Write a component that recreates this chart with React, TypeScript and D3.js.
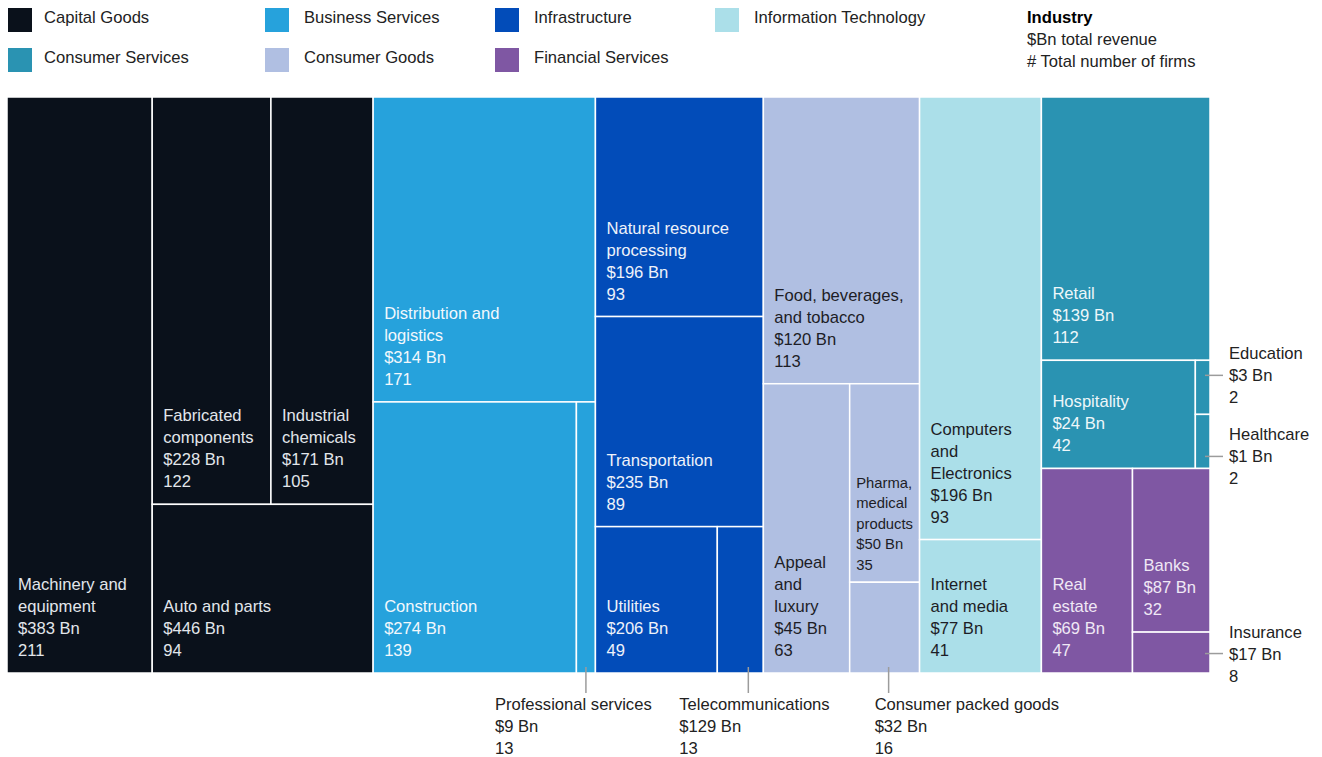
import React, { useMemo } from "react";
import * as d3 from "d3";

// ---- legend / groups ----
const groupNames = [
  "Capital Goods",
  "Business Services",
  "Infrastructure",
  "Information Technology",
  "Consumer Services",
  "Consumer Goods",
  "Financial Services",
];
const groupColors = ["#0a111b", "#26a2dc", "#024cb9", "#abdfe9", "#2a93b2", "#b0bfe2", "#7f57a3"];
const groupTextColors = ["#e2e6eb", "#f2f8fc", "#eef2fa", "#1d1d26", "#eef7fa", "#1d1d26", "#efe8f5"];
const legendRows = [
  ["Capital Goods", "Business Services", "Infrastructure", "Information Technology"],
  ["Consumer Services", "Consumer Goods", "Financial Services"],
];
const keyLines = ["Industry", "$Bn total revenue", "# Total number of firms"];

// ---- industries ----
const industryNames = [
  "Machinery and\nequipment",
  "Fabricated\ncomponents",
  "Industrial\nchemicals",
  "Auto and parts",
  "Distribution and\nlogistics",
  "Construction",
  "Professional services",
  "Natural resource\nprocessing",
  "Transportation",
  "Utilities",
  "Telecommunications",
  "Food, beverages,\nand tobacco",
  "Appeal\nand\nluxury",
  "Pharma,\nmedical\nproducts",
  "Consumer packed goods",
  "Computers\nand\nElectronics",
  "Internet\nand media",
  "Retail",
  "Hospitality",
  "Education",
  "Healthcare",
  "Real\nestate",
  "Banks",
  "Insurance",
];
const industryGroup = [0, 0, 0, 0, 1, 1, 1, 2, 2, 2, 2, 5, 5, 5, 5, 3, 3, 4, 4, 4, 4, 6, 6, 6];
const revenueBn = [383, 228, 171, 446, 314, 274, 9, 196, 235, 206, 129, 120, 45, 50, 32, 196, 77, 139, 24, 3, 1, 69, 87, 17];
const firmCount = [211, 122, 105, 94, 171, 139, 13, 93, 89, 49, 13, 113, 63, 35, 16, 93, 41, 112, 42, 2, 2, 47, 32, 8];
// tile area as drawn in the reference (≈ number of firms)
const areaWeight = [211, 122, 105, 94, 171, 139, 13, 93, 89, 45, 17, 113, 63, 35, 16, 136, 41, 112, 42, 2, 2, 47, 32, 8];

// arrangement of tiles: h = side by side, v = stacked
const L = (i: number) => ({ leaf: i });
const arrangement: any = {
  dir: "h",
  children: [
    { dir: "h", children: [L(0), { dir: "v", children: [{ dir: "h", children: [L(1), L(2)] }, L(3)] }] },
    { dir: "v", children: [L(4), { dir: "h", children: [L(5), L(6)] }] },
    { dir: "v", children: [L(7), L(8), { dir: "h", children: [L(9), L(10)] }] },
    { dir: "v", children: [L(11), { dir: "h", children: [L(12), { dir: "v", children: [L(13), L(14)] }] }] },
    { dir: "v", children: [L(15), L(16)] },
    {
      dir: "v",
      children: [
        { dir: "v", children: [L(17), { dir: "h", children: [L(18), { dir: "v", children: [L(19), L(20)] }] }] },
        { dir: "h", children: [L(21), { dir: "v", children: [L(22), L(23)] }] },
      ],
    },
  ],
};

// labels placed outside their tile
const outsideLabels = [
  { leaf: 6, side: "bottom", leaderDx: 0, textDx: -91, dy: 0 },
  { leaf: 10, side: "bottom", leaderDx: 8, textDx: -69, dy: 0 },
  { leaf: 14, side: "bottom", leaderDx: 4, textDx: -14, dy: 0 },
  { leaf: 19, side: "right", leaderDx: 0, textDx: 0, dy: -12 },
  { leaf: 20, side: "right", leaderDx: 0, textDx: 0, dy: 15 },
  { leaf: 23, side: "right", leaderDx: 0, textDx: 0, dy: 1 },
];

const W = 1322;
const H = 757;
const FONT = "'Liberation Sans', Arial, Helvetica, sans-serif";
const FS = 16.6;
const margin = { left: 7, top: 97, right: 112, bottom: 84 };

let ctx: CanvasRenderingContext2D | null = null;
function textWidth(s: string, size: number) {
  if (!ctx) ctx = document.createElement("canvas").getContext("2d");
  if (!ctx) return s.length * size * 0.55;
  ctx.font = `${size}px ${FONT}`;
  return ctx.measureText(s).width;
}

export default function App() {
  const leaves = useMemo(() => {
    const root = d3
      .hierarchy(arrangement, (d: any) => d.children)
      .sum((d: any) => (d.leaf !== undefined ? areaWeight[d.leaf] : 0));
    const tile = (node: any, x0: number, y0: number, x1: number, y1: number) => {
      (node.data.dir === "h" ? d3.treemapDice : d3.treemapSlice)(node, x0, y0, x1, y1);
    };
    d3
      .treemap()
      .tile(tile as any)
      .size([W - margin.left - margin.right, H - margin.top - margin.bottom])(root as any);
    return (root.leaves() as any[]).map((n) => ({
      i: n.data.leaf as number,
      x0: n.x0 + margin.left,
      y0: n.y0 + margin.top,
      x1: n.x1 + margin.left,
      y1: n.y1 + margin.top,
    }));
  }, []);

  const outsideSet = new Set(outsideLabels.map((o) => o.leaf));
  const byIdx: Record<number, any> = {};
  leaves.forEach((l) => (byIdx[l.i] = l));

  const labelLines = (i: number) => [...industryNames[i].split("\n"), `$${revenueBn[i]} Bn`, `${firmCount[i]}`];

  return (
    <svg
      width={W}
      height={H}
      style={{ position: "absolute", left: 0, top: 0, display: "block", background: "#fff" }}
      fontFamily={FONT}
    >
      {/* legend */}
      {legendRows.map((row, r) =>
        row.map((name, c) => {
          const gi = groupNames.indexOf(name);
          const x = [8, 265, 495, 715][c];
          const y = 8 + r * 40;
          return (
            <g key={name}>
              <rect x={x} y={y} width={24} height={24} fill={groupColors[gi]} />
              <text x={x + (c === 0 ? 36 : 39)} y={y + 15} fontSize={FS} fill="#222">
                {name}
              </text>
            </g>
          );
        })
      )}
      {keyLines.map((t, k) => (
        <text
          key={t}
          x={1027}
          y={23 + k * 22}
          fontSize={FS}
          fontWeight={k === 0 ? 700 : 400}
          fill={k === 0 ? "#000" : "#222"}
        >
          {t}
        </text>
      ))}

      {/* tiles */}
      {leaves.map((l) => (
        <rect
          key={"r" + l.i}
          x={l.x0}
          y={l.y0}
          width={l.x1 - l.x0}
          height={l.y1 - l.y0}
          fill={groupColors[industryGroup[l.i]]}
          stroke="#fff"
          strokeWidth={1.5}
        />
      ))}

      {/* inside labels */}
      {leaves
        .filter((l) => !outsideSet.has(l.i))
        .map((l) => {
          const lines = labelLines(l.i);
          const w = l.x1 - l.x0;
          let size = FS;
          let maxW = d3.max(lines, (s) => textWidth(s, size)) || 0;
          if (maxW > w - 10) {
            size = 14.8;
            maxW = d3.max(lines, (s) => textWidth(s, size)) || 0;
          }
          const lh = size === FS ? 22 : 20.5;
          const pad = Math.max(3, Math.min(11, (w - maxW) / 2));
          const lastBase = l.y1 - (size === FS ? 17 : 12.5);
          return (
            <text key={"t" + l.i} fontSize={size} fill={groupTextColors[industryGroup[l.i]]}>
              {lines.map((s, k) => (
                <tspan key={k} x={l.x0 + pad} y={lastBase - (lines.length - 1 - k) * lh}>
                  {s}
                </tspan>
              ))}
            </text>
          );
        })}

      {/* outside labels */}
      {outsideLabels.map((o) => {
        const l = byIdx[o.leaf];
        if (!l) return null;
        const lines = [industryNames[o.leaf], `$${revenueBn[o.leaf]} Bn`, `${firmCount[o.leaf]}`];
        if (o.side === "bottom") {
          const lx = (l.x0 + l.x1) / 2 + o.leaderDx;
          return (
            <g key={"o" + o.leaf}>
              <line x1={lx} x2={lx} y1={l.y1 - 6} y2={l.y1 + 20} stroke="#9c9c9c" strokeWidth={1.5} />
              <text fontSize={FS} fill="#222">
                {lines.map((s, k) => (
                  <tspan key={k} x={lx + o.textDx} y={l.y1 + 37 + k * 22}>
                    {s}
                  </tspan>
                ))}
              </text>
            </g>
          );
        }
        const ly = (l.y0 + l.y1) / 2 + o.dy;
        return (
          <g key={"o" + o.leaf}>
            <line x1={l.x1 - 5} x2={l.x1 + 13} y1={ly} y2={ly} stroke="#9c9c9c" strokeWidth={1.5} />
            <text fontSize={FS} fill="#222">
              {lines.map((s, k) => (
                <tspan key={k} x={l.x1 + 19} y={ly + 6 + (k - 1) * 22}>
                  {s}
                </tspan>
              ))}
            </text>
          </g>
        );
      })}
    </svg>
  );
}
